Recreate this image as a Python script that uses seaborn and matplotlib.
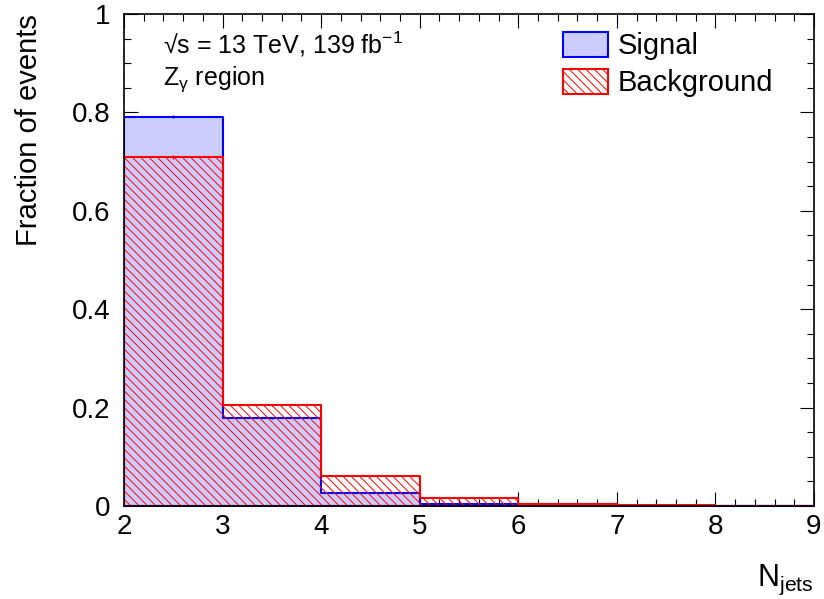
import numpy as np
import pandas as pd
import seaborn as sns
import matplotlib
matplotlib.use("Agg")
import matplotlib.pyplot as plt
from matplotlib.patches import Patch
from matplotlib.ticker import MultipleLocator, FuncFormatter

# Jet multiplicity distributions (normalised to unit area)
bin_edges = [2, 3, 4, 5, 6, 7, 8, 9]
signal_frac = [0.791, 0.178, 0.026, 0.004, 0.001, 0.0004, 0.0001]
background_frac = [0.709, 0.205, 0.060, 0.016, 0.004, 0.0012, 0.0003]
signal_err = [0.003, 0.001, 0.0005, 0.0002, 0.0001, 0.0, 0.0]
background_err = [0.004, 0.002, 0.001, 0.0005, 0.0002, 0.0001, 0.0]

x_ticks = [2, 3, 4, 5, 6, 7, 8, 9]
y_ticks = [0, 0.2, 0.4, 0.6, 0.8, 1.0]

sns.set_theme(style="ticks")
plt.rcParams["font.family"] = ["Liberation Sans", "DejaVu Sans"]
plt.rcParams["mathtext.fontset"] = "custom"
plt.rcParams["mathtext.rm"] = "Liberation Sans"
plt.rcParams["mathtext.it"] = "Liberation Sans:italic"
plt.rcParams["hatch.linewidth"] = 0.7
plt.rcParams["text.color"] = "black"
plt.rcParams["axes.labelcolor"] = "black"

HATCH = "\\" * 4

centers = [(a + b) / 2 for a, b in zip(bin_edges[:-1], bin_edges[1:])]
df = pd.DataFrame({"njets": centers, "sig": signal_frac, "bkg": background_frac})

fig = plt.figure(figsize=(8.24, 5.99), dpi=100)
ax = fig.add_axes([124 / 824, 1 - 506 / 599, 690 / 824, 492 / 599])

sig_face = (0.8, 0.8, 1.0)
sns.histplot(data=df, x="njets", weights="sig", bins=bin_edges, element="step",
             fill=True, ax=ax, color="blue", facecolor=sig_face, edgecolor="blue",
             linewidth=1.5, alpha=1)
sns.histplot(data=df, x="njets", weights="bkg", bins=bin_edges, element="step",
             fill=True, ax=ax, color="red", facecolor=(1, 1, 1, 0), edgecolor="red",
             hatch=HATCH, linewidth=1.5, alpha=1)

ax.errorbar(centers, signal_frac, yerr=signal_err, fmt="none", ecolor="blue", elinewidth=1)
ax.errorbar(centers, background_frac, yerr=background_err, fmt="none", ecolor="red", elinewidth=1)

ax.set_xlim(2, 9)
ax.set_ylim(0, 1.0)
ax.set_xticks(x_ticks)
ax.set_yticks(y_ticks)
ax.xaxis.set_minor_locator(MultipleLocator(0.2))
ax.yaxis.set_minor_locator(MultipleLocator(0.05))
ax.yaxis.set_major_formatter(FuncFormatter(lambda v, p: f"{v:g}"))
ax.tick_params(which="both", direction="in", top=True, right=True, colors="black",
               width=0.8, labelsize=20)
ax.tick_params(which="major", length=10)
ax.tick_params(which="minor", length=5)
ax.tick_params(axis="y", which="major", pad=10)
ax.tick_params(axis="x", which="major", pad=6)
for s in ax.spines.values():
    s.set_linewidth(1.2)
    s.set_color("black")
    s.set_visible(True)

ax.set_ylabel("Fraction of events", fontsize=21, loc="top", color="black")
ax.yaxis.set_label_coords(-0.117, 1.0)
ax.set_xlabel(r"N$_\mathregular{jets}$", fontsize=22, loc="right", color="black")
ax.xaxis.set_label_coords(1.0, -0.115)

ax.text(0.057, 0.968, "√s = 13 TeV, 139 fb$^\\mathregular{-1}$", transform=ax.transAxes,
        fontsize=18, va="top", ha="left", color="black")
ax.text(0.057, 0.898, "Z$_\\mathregular{γ}$ region", transform=ax.transAxes,
        fontsize=18, va="top", ha="left", color="black")

handles = [Patch(facecolor=sig_face, edgecolor="blue", linewidth=1.5, label="Signal"),
           Patch(facecolor="none", edgecolor="red", hatch=HATCH, linewidth=1.5, label="Background")]
leg = ax.legend(handles=handles, loc="upper left",
                bbox_to_anchor=((563 - 124) / 690, (506 - 32) / 492),
                frameon=False, fontsize=21, handlelength=1.54, handleheight=0.92,
                handletextpad=0.34, labelspacing=0.3, borderpad=0, borderaxespad=0)
for t in leg.get_texts():
    t.set_color("black")

fig.savefig("out.png", dpi=100)
